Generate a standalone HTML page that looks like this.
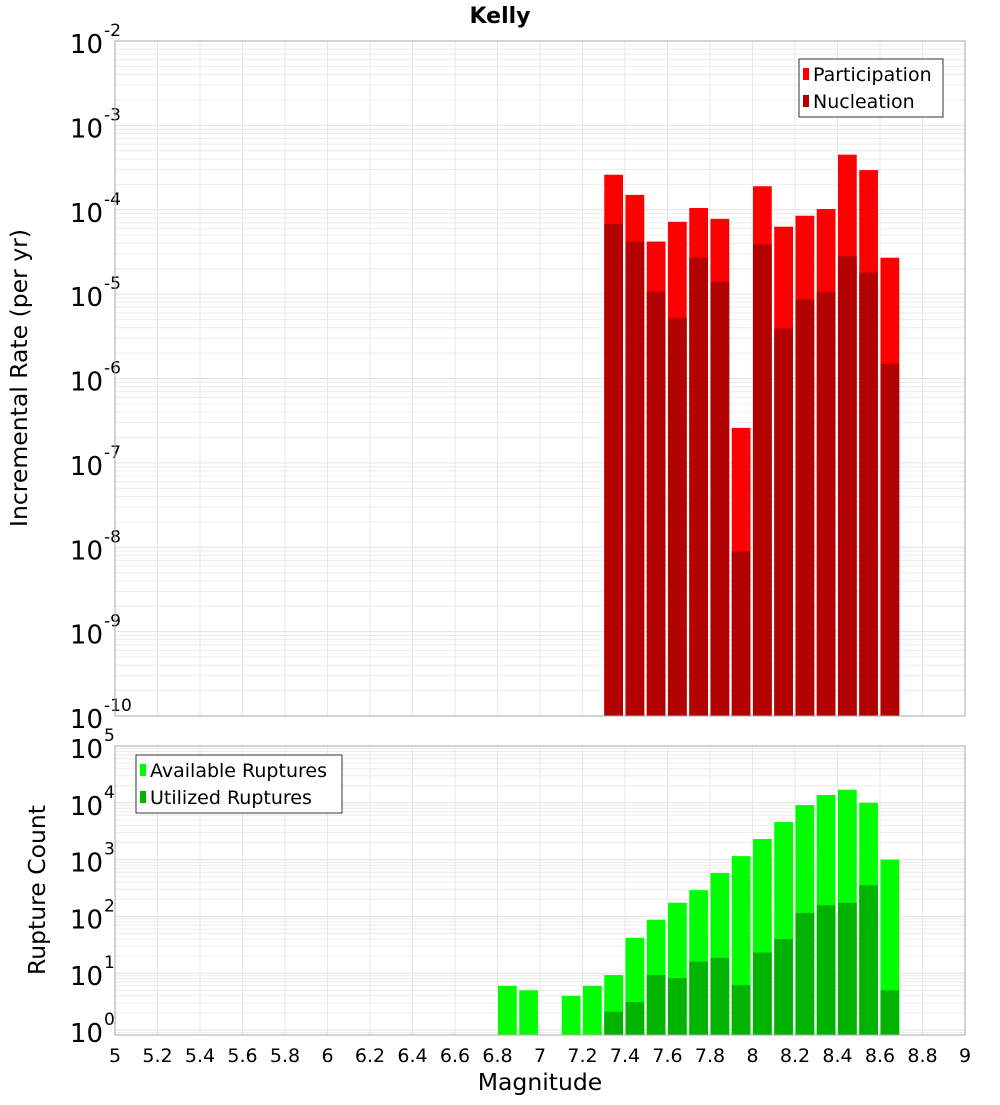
<!DOCTYPE html>
<html><head><meta charset="utf-8"><style>
body{margin:0;background:#fff}
text{font-family:"DejaVu Sans","Liberation Sans",sans-serif}
</style></head><body>
<svg id="chart" width="1000" height="1100" viewBox="0 0 1000 1100" xmlns="http://www.w3.org/2000/svg">
<text x="500" y="23" text-anchor="middle" font-size="22" font-weight="bold">Kelly</text>
<g id="top"></g>
<g id="bot"></g>
<text x="540" y="1090" text-anchor="middle" font-size="23.5">Magnitude</text>
<text transform="translate(27,378) rotate(-90)" text-anchor="middle" font-size="23.5">Incremental Rate (per yr)</text>
<text transform="translate(45,890) rotate(-90)" text-anchor="middle" font-size="23.5">Rupture Count</text>
</svg>
<script>
const binStarts = [7.3,7.4,7.5,7.6,7.7,7.8,7.9,8.0,8.1,8.2,8.3,8.4,8.5,8.6];
const participation = [2.6e-4,1.5e-4,4.2e-5,7.2e-5,1.05e-4,7.8e-5,2.6e-7,1.9e-4,6.3e-5,8.5e-5,1.02e-4,4.5e-4,2.95e-4,2.7e-5];
const nucleation = [6.8e-5,4.2e-5,1.07e-5,5.2e-6,2.7e-5,1.4e-5,8.9e-9,3.9e-5,3.9e-6,8.7e-6,1.07e-5,2.8e-5,1.8e-5,1.5e-6];
const availStarts = [6.8,6.9,7.1,7.2,7.3,7.4,7.5,7.6,7.7,7.8,7.9,8.0,8.1,8.2,8.3,8.4,8.5,8.6];
const available = [6,5,4,6,9.3,42,87,174,290,580,1150,2300,4600,9100,13700,17000,10000,1000];
const utilized = [2.1,3.1,9.3,8.2,16,18.6,6.2,23,40,115,157,174,355,5.0];
const xTicks = [5,5.2,5.4,5.6,5.8,6,6.2,6.4,6.6,6.8,7,7.2,7.4,7.6,7.8,8,8.2,8.4,8.6,8.8,9];
const topExps = [-2,-3,-4,-5,-6,-7,-8,-9,-10];
const botExps = [5,4,3,2,1,0];

const NS="http://www.w3.org/2000/svg";
const X0=115,X1=965;
const x=m=>X0+(m-5)/4*(X1-X0);
const yTop=v=>41+(-2-Math.log10(v))*(675/8);
const yBot=v=>746+(5-Math.log10(v))*56.8;
function mk(parent,tag,attrs){const e=document.createElementNS(NS,tag);for(const k in attrs)e.setAttribute(k,attrs[k]);parent.appendChild(e);return e;}

function panel(g,top,bottom,yf,expLo,expHi,exps){
  const bg=mk(g,'rect',{x:X0,y:top,width:X1-X0,height:bottom-top,fill:'#fff'});
  
  
  for(let e=expLo;e<expHi;e++)for(let k=1;k<10;k++){
    const yy=yf(k*Math.pow(10,e));
    if(yy<top||yy>bottom)continue;
    const l=mk(g,'line',{x1:X0,x2:X1,y1:yy,y2:yy,stroke:k==1?'#e2e2e2':'#ececec','stroke-width':1});
    
    
  }
  xTicks.forEach(t=>{
    const l=mk(g,'line',{x1:x(t),x2:x(t),y1:top,y2:bottom,stroke:'#e8e8e8','stroke-width':1});
    
    
  });
  exps.forEach(e=>{
    const yy=yf(Math.pow(10,e));
    const t=mk(g,'text',{x:103,y:yy+12,'text-anchor':'end','font-size':26});
    t.textContent='10';
    
    
    const s=mk(g,'text',{x:104,y:yy-5,'font-size':17});
    s.textContent=String(e);
    
    
  });
}
function bar(g,m,v,yf,bottom,color,name){
  const yy=yf(v);
  const r=mk(g,'rect',{x:x(m)+0.5,y:yy,width:(X1-X0)/40-2.5,height:bottom-yy,fill:color});
  
  
}
function frame(g,top,bottom){
  const f=mk(g,'rect',{x:X0,y:top,width:X1-X0,height:bottom-top,fill:'none',stroke:'#aaa','stroke-width':1});
  
  
}
function legend(g,lx,ly,w,items){
  const b=mk(g,'rect',{x:lx,y:ly,width:w,height:58,fill:'#fff',stroke:'#333','stroke-width':1});
  
  
  items.forEach((it,i)=>{
    const cy=ly+15+i*27;
    const s=mk(g,'rect',{x:lx+4,y:cy-6,width:6,height:12,fill:it[1]});
    
    
    const t=mk(g,'text',{x:lx+14,y:cy+7,'font-size':19});
    t.textContent=it[0];
    
    
  });
}
const gt=document.getElementById('top');
panel(gt,41,716,yTop,-10,-2,topExps);
binStarts.forEach((m,i)=>bar(gt,m,participation[i],yTop,716,'#ff0000','participation-bar'));
binStarts.forEach((m,i)=>bar(gt,m,nucleation[i],yTop,716,'#b30000','nucleation-bar'));
frame(gt,41,716);
legend(gt,799,59,144,[['Participation','#ff0000'],['Nucleation','#b30000']]);

const gb=document.getElementById('bot');
panel(gb,746,1035,yBot,-1,5,botExps);
availStarts.forEach((m,i)=>bar(gb,m,available[i],yBot,1035,'#00ff00','available-bar'));
binStarts.forEach((m,i)=>bar(gb,m,utilized[i],yBot,1035,'#00b300','utilized-bar'));
frame(gb,746,1035);
legend(gb,136,755,206,[['Available Ruptures','#00ff00'],['Utilized Ruptures','#00b300']]);

xTicks.forEach(t=>{
  const l=mk(gb,'text',{x:x(t),y:1062,'text-anchor':'middle','font-size':19});
  l.textContent=String(t);
  
  
});
</script>
</body></html>
